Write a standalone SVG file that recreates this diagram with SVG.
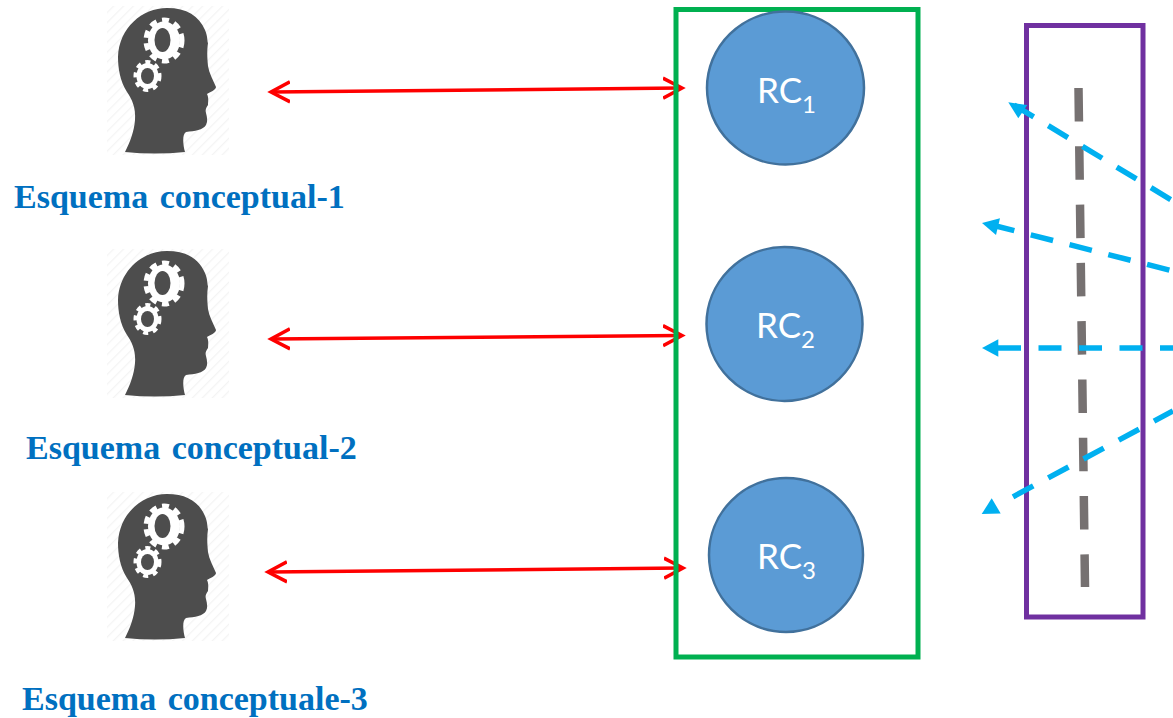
<svg xmlns="http://www.w3.org/2000/svg" width="1173" height="718" viewBox="0 0 1173 718">
<style>
.lab{font-family:"Liberation Serif",serif;font-weight:bold;font-size:34px;word-spacing:3px;fill:#0070c0}
.rc{fill:#5b9bd5;stroke:#41719c;stroke-width:2.500}
.rct{font-family:Lato,"Open Sans","DejaVu Sans",sans-serif;font-size:35px;fill:#fff}
.sub{font-size:24px}
.red{fill:none;stroke:#fe0000;stroke-width:3.500}
.blue{fill:none;stroke:#00b0f0;stroke-width:5.500;stroke-dasharray:23 17}
.tip{fill:#00b0f0}
</style>
<defs>
<pattern id="hatch" width="7" height="7" patternUnits="userSpaceOnUse" patternTransform="rotate(45)"><rect width="7" height="7" fill="#fff"/><line x1="0" y1="0" x2="0" y2="7" stroke="#f4f4f4" stroke-width="2.500"/></pattern>
<marker id="ah" markerUnits="userSpaceOnUse" markerWidth="26" markerHeight="26" refX="18" refY="13" orient="auto-start-reverse"><path d="M0 3 L19 13 L0 23" fill="none" stroke="#fe0000" stroke-width="3.500"/></marker>
<g id="head">
<rect x="107" y="6" width="122" height="149" fill="url(#hatch)"/>
<path fill="#4d4d4d" d="M167 8C187 8 199 16 205 30C208 37 207 41 208 43C207 50 207 56 208 66C209 73 213 80 216 87C216 90 210 92 207 94C209 98 208 102 208 105C206 108 205 110 206 113C207 117 208 121 206 125C203 130 195 131 186 132C182 134 183 145 185 152C165 154 145 154 125 152C130 142 134 132 135 120C136 108 132 99 127 92C120 81 118 68 118 57C119 28 142 8 167 8Z"/>
<ellipse cx="164" cy="40.500" rx="16" ry="19" fill="#fff"/>
<ellipse cx="164" cy="40.500" rx="18" ry="20.500" fill="none" stroke="#fff" stroke-width="5" stroke-dasharray="7 5.600"/>
<ellipse cx="162.500" cy="40" rx="8" ry="12" fill="#4d4d4d"/>
<ellipse cx="147.500" cy="76" rx="11" ry="13" fill="#fff"/>
<ellipse cx="147.500" cy="76" rx="12" ry="14" fill="none" stroke="#fff" stroke-width="4" stroke-dasharray="5 4.800"/>
<ellipse cx="147.500" cy="76" rx="6.500" ry="8" fill="#4d4d4d"/>
</g>
</defs>
<g id="head-1"><use href="#head"/></g>
<g id="head-2"><use href="#head" y="243"/></g>
<g id="head-3"><use href="#head" y="486"/></g>
<g id="label-1"><text class="lab" x="14" y="208">Esquema conceptual-1</text></g>
<g id="label-2"><text class="lab" x="26" y="459">Esquema conceptual-2</text></g>
<g id="label-3"><text class="lab" x="22" y="710">Esquema conceptuale-3</text></g>
<g id="window"><rect x="1026.500" y="25.500" width="116.500" height="591.500" fill="none" stroke="#7030a0" stroke-width="5"/></g>
<g id="connectors">
<line class="red" x1="272" y1="92" x2="681" y2="88" marker-start="url(#ah)" marker-end="url(#ah)"/>
<line class="red" x1="272" y1="339" x2="681" y2="335.500" marker-start="url(#ah)" marker-end="url(#ah)"/>
<line class="red" x1="269" y1="572" x2="682" y2="568" marker-start="url(#ah)" marker-end="url(#ah)"/>
<line x1="1078.500" y1="88" x2="1085" y2="587" fill="none" stroke="#767171" stroke-width="8.500" stroke-dasharray="33.500 24.800"/>
<line class="blue" x1="1014" y1="105" x2="1173" y2="201"/>
<path class="tip" d="M1008.300 102.300L1027.300 105L1018.300 118.300Z"/>
<line class="blue" x1="992" y1="225" x2="1173" y2="271"/>
<path class="tip" d="M982 223L1000 218.300L996 235Z"/>
<line class="blue" x1="998" y1="348" x2="1173" y2="348" style="stroke-dasharray:23 17.500"/>
<path class="tip" d="M982 348L998.300 339.300L998.300 356.700Z"/>
<line class="blue" x1="1013" y1="496.800" x2="1173" y2="411"/>
<path class="tip" d="M991.700 498.300L1000.700 513.500L981.700 514Z"/>
</g>
<g id="rc-container"><rect x="676" y="9.500" width="242" height="647.500" fill="none" stroke="#00b050" stroke-width="5"/></g>
<g id="rc-1"><ellipse class="rc" cx="785.500" cy="88" rx="78.500" ry="76.500"/><text class="rct" x="757" y="103">RC<tspan class="sub" dy="10">1</tspan></text></g>
<g id="rc-2"><ellipse class="rc" cx="784.500" cy="324" rx="78" ry="77"/><text class="rct" x="756" y="338">RC<tspan class="sub" dy="10">2</tspan></text></g>
<g id="rc-3"><circle class="rc" cx="786" cy="555" r="77"/><text class="rct" x="757" y="569">RC<tspan class="sub" dy="10">3</tspan></text></g>
</svg>
